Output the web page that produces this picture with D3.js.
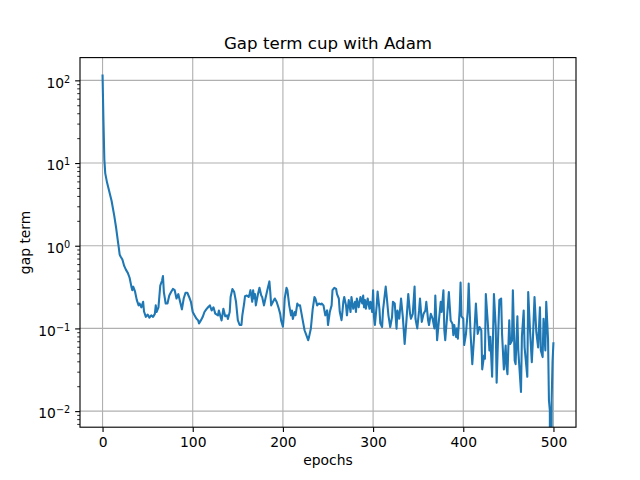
<!DOCTYPE html>
<html>
<head>
<meta charset="utf-8">
<script src="https://cdn.jsdelivr.net/npm/d3@7"></script>
<style>
  body { margin: 0; background: #fff; }
  svg { display: block; font-family: "DejaVu Sans", sans-serif; }
</style>
</head>
<body>
<svg id="chart" width="640" height="480"></svg>
<script>
const title = "Gap term cup with Adam";
const xLabel = "epochs";
const yLabel = "gap term";

const epochs = [
  0, 1, 2, 3, 5, 10, 13, 15, 17, 18,
  19, 20, 22, 24, 26, 28, 30, 32, 33, 34,
  36, 38, 40, 41, 43, 45, 46, 48, 50, 52,
  54, 56, 58, 59, 60, 62, 64, 66, 67, 68,
  70, 72, 74, 76, 78, 80, 82, 84, 86, 88,
  90, 92, 94, 96, 98, 100, 102, 104, 106, 107,
  109, 111, 113, 115, 117, 119, 121, 123, 125, 128,
  129, 131, 132, 134, 136, 138, 139, 141, 142, 144,
  146, 148, 150, 152, 154, 155, 157, 158, 160, 162,
  163, 164, 166, 167, 168, 169, 170, 172, 174, 176,
  177, 179, 181, 183, 185, 186, 187, 189, 191, 193,
  195, 197, 198, 200, 201, 202, 204, 205, 207, 209,
  210, 211, 213, 214, 216, 217, 219, 220, 222, 224,
  226, 228, 229, 231, 233, 235, 236, 238, 240, 242,
  243, 245, 247, 249, 250, 252, 254, 255, 257, 259,
  260, 262, 263, 265, 266, 267, 268, 270, 271, 273,
  275, 276, 278, 280, 281, 282, 284, 286, 288, 289,
  290, 291, 292, 294, 296, 297, 299, 300, 301, 302,
  304, 305, 307, 308, 310, 311, 314, 315, 317, 319,
  321, 322, 324, 326, 327, 329, 331, 333, 335, 337,
  339, 341, 342, 344, 346, 347, 349, 351, 352, 354,
  356, 358, 359, 361, 362, 364, 366, 368, 369, 371,
  373, 375, 376, 378, 379, 380, 382, 384, 386, 388,
  389, 390, 392, 393, 394, 396, 397, 398, 400, 401,
  403, 405, 406, 408, 410, 412, 414, 416, 418, 420,
  421, 423, 424, 425, 427, 429, 430, 432, 434, 436,
  437, 438, 440, 442, 443, 445, 447, 448, 449, 451,
  452, 454, 455, 457, 458, 460, 461, 464, 465, 467,
  468, 471, 472, 474, 476, 477, 479, 481, 483, 485,
  486, 488, 489, 491, 492, 494, 495, 496, 497, 498,
  499, 500
];

const gapTerm = [
  118, 33, 11, 7.5, 5.8, 3.5, 2.3, 1.66, 1.14, 0.95,
  0.78, 0.74, 0.68, 0.57, 0.51, 0.47, 0.41, 0.32, 0.29, 0.32,
  0.28, 0.22, 0.19, 0.20, 0.18, 0.21, 0.16, 0.138, 0.147, 0.135,
  0.144, 0.138, 0.15, 0.19, 0.158, 0.18, 0.33, 0.38, 0.43, 0.275,
  0.2, 0.2, 0.25, 0.275, 0.30, 0.29, 0.23, 0.26, 0.21, 0.17,
  0.23, 0.27, 0.27, 0.24, 0.21, 0.158, 0.144, 0.132, 0.125, 0.115,
  0.125, 0.137, 0.158, 0.17, 0.18, 0.19, 0.165, 0.18, 0.151, 0.144,
  0.165, 0.137, 0.125, 0.173, 0.14, 0.144, 0.13, 0.158, 0.24, 0.30,
  0.275, 0.21, 0.126, 0.11, 0.11, 0.144, 0.2, 0.245, 0.25, 0.24,
  0.26, 0.29, 0.21, 0.29, 0.23, 0.26, 0.19, 0.25, 0.31, 0.25,
  0.24, 0.19, 0.24, 0.30, 0.37, 0.275, 0.19, 0.21, 0.23, 0.21,
  0.18, 0.15, 0.125, 0.105, 0.144, 0.23, 0.31, 0.29, 0.19, 0.144,
  0.165, 0.13, 0.158, 0.144, 0.2, 0.19, 0.19, 0.165, 0.125, 0.095,
  0.083, 0.072, 0.079, 0.1, 0.17, 0.24, 0.23, 0.19, 0.2, 0.195,
  0.2, 0.19, 0.144, 0.165, 0.11, 0.158, 0.19, 0.29, 0.31, 0.30,
  0.26, 0.23, 0.16, 0.126, 0.158, 0.21, 0.24, 0.19, 0.144, 0.22,
  0.158, 0.24, 0.173, 0.21, 0.158, 0.23, 0.18, 0.24, 0.2, 0.25,
  0.18, 0.22, 0.173, 0.23, 0.173, 0.21, 0.158, 0.29, 0.137, 0.11,
  0.19, 0.28, 0.173, 0.115, 0.104, 0.165, 0.32, 0.25, 0.144, 0.104,
  0.137, 0.21, 0.2, 0.099, 0.165, 0.131, 0.23, 0.137, 0.065, 0.125,
  0.26, 0.15, 0.131, 0.15, 0.32, 0.131, 0.1, 0.165, 0.23, 0.12,
  0.15, 0.165, 0.21, 0.125, 0.11, 0.15, 0.131, 0.1, 0.25, 0.072,
  0.125, 0.21, 0.158, 0.29, 0.095, 0.072, 0.137, 0.275, 0.125, 0.114,
  0.083, 0.11, 0.079, 0.1, 0.075, 0.165, 0.36, 0.14, 0.131, 0.063,
  0.086, 0.165, 0.35, 0.09, 0.037, 0.079, 0.2, 0.086, 0.104, 0.095,
  0.032, 0.047, 0.043, 0.26, 0.125, 0.054, 0.079, 0.026, 0.26, 0.104,
  0.022, 0.049, 0.22, 0.23, 0.086, 0.032, 0.062, 0.034, 0.028, 0.125,
  0.065, 0.071, 0.29, 0.041, 0.037, 0.14, 0.054, 0.017, 0.079, 0.165,
  0.059, 0.026, 0.275, 0.095, 0.039, 0.065, 0.24, 0.09, 0.059, 0.18,
  0.054, 0.045, 0.131, 0.054, 0.21, 0.074, 0.0135, 0.0102, 0, 0.0135,
  0.04, 0.068
];

const xTicks = [0, 100, 200, 300, 400, 500];
const yTicks = [1e-2, 1e-1, 1e0, 1e1, 1e2];

const data = epochs.map((e, i) => ({ epoch: e, value: gapTerm[i] }));

const width = 640;
const height = 480;
const margin = { top: 57.6, right: 64, bottom: 52.8, left: 80 };
const w = width - margin.left - margin.right;
const h = height - margin.top - margin.bottom;

const pt = 100 / 72;
const fontSize = 10 * pt;

const svg = d3.select('#chart');

// matplotlib style autoscale, 5% margins (log space for y)
const xExt = d3.extent(epochs);
const xPad = (xExt[1] - xExt[0]) * 0.05;
const x = d3.scaleLinear()
    .domain([xExt[0] - xPad, xExt[1] + xPad])
    .range([0, w]);

const pos = gapTerm.filter(v => v > 0);
const lmin = Math.log10(d3.min(pos));
const lmax = Math.log10(d3.max(pos));
const lPad = (lmax - lmin) * 0.05;
const y = d3.scaleLog()
    .domain([Math.pow(10, lmin - lPad), Math.pow(10, lmax + lPad)])
    .range([h, 0]);

const g = svg.append('g')
    .attr('transform', `translate(${margin.left},${margin.top})`);

g.append('defs').append('clipPath')
    .attr('id', 'plot-clip')
  .append('rect')
    .attr('width', w)
    .attr('height', h);

// grid
g.append('g')
    .selectAll('line')
    .data(xTicks)
    .enter()
    .append('line')
    .attr('x1', d => x(d))
    .attr('x2', d => x(d))
    .attr('y1', 0)
    .attr('y2', h)
    .attr('stroke', '#b0b0b0')
    .attr('stroke-width', 0.8 * pt);

g.append('g')
    .selectAll('line')
    .data(yTicks)
    .enter()
    .append('line')
    .attr('x1', 0)
    .attr('x2', w)
    .attr('y1', d => y(d))
    .attr('y2', d => y(d))
    .attr('stroke', '#b0b0b0')
    .attr('stroke-width', 0.8 * pt);

// line
const line = d3.line()
    .x(d => x(d.epoch))
    .y(d => d.value > 0 ? y(d.value) : h + 1000);

g.append('path')
    .datum(data)
    .attr('clip-path', 'url(#plot-clip)')
    .attr('fill', 'none')
    .attr('stroke', '#1f77b4')
    .attr('stroke-width', 1.5 * pt)
    .attr('stroke-linejoin', 'round')
    .attr('d', line);

// axes
const xAxis = d3.axisBottom(x)
    .tickValues(xTicks)
    .tickSize(3.5 * pt)
    .tickPadding(3.5 * pt);

g.append('g')
    .attr('transform', `translate(0,${h})`)
    .call(xAxis)
    .call(s => s.select('.domain').remove())
    .call(s => s.selectAll('.tick line').attr('stroke', '#000').attr('stroke-width', 0.8 * pt))
    .call(s => s.selectAll('.tick text')
        .attr('fill', '#000')
        .attr('dy', '0.71em')
        .style('font-size', fontSize + 'px')
        .style('font-family', 'DejaVu Sans'));

const minorTicks = [];
d3.range(-3, 3).forEach(k => {
  for (let m = 2; m < 10; m++) {
    const v = m * Math.pow(10, k);
    if (v >= y.domain()[0] && v <= y.domain()[1]) minorTicks.push(v);
  }
});

g.append('g')
    .call(d3.axisLeft(y).tickValues(minorTicks).tickSize(2 * pt).tickFormat(() => ''))
    .call(s => s.select('.domain').remove())
    .call(s => s.selectAll('.tick line').attr('stroke', '#000').attr('stroke-width', 0.6 * pt));

const yAxis = d3.axisLeft(y)
    .tickValues(yTicks)
    .tickSize(3.5 * pt)
    .tickPadding(3.5 * pt)
    .tickFormat(() => '');

const yg = g.append('g')
    .call(yAxis)
    .call(s => s.select('.domain').remove())
    .call(s => s.selectAll('.tick line').attr('stroke', '#000').attr('stroke-width', 0.8 * pt));

yg.selectAll('.tick text')
    .attr('fill', '#000')
    .attr('dy', '0.48em')
    .style('font-size', fontSize + 'px')
    .style('font-family', 'DejaVu Sans')
    .each(function(d) {
      const t = d3.select(this);
      const e = Math.round(Math.log10(d));
      t.append('tspan').text('10');
      t.append('tspan')
          .attr('dy', -5)
          .style('font-size', (fontSize * 0.7) + 'px')
          .text(e < 0 ? '\u2212' + (-e) : String(e));
    });

// spines
g.append('rect')
    .attr('width', w)
    .attr('height', h)
    .attr('fill', 'none')
    .attr('stroke', '#000')
    .attr('stroke-width', 0.8 * pt);

// labels
svg.append('text')
    .attr('x', margin.left + w / 2)
    .attr('y', margin.top - 6 * pt - 0.5)
    .attr('text-anchor', 'middle')
    .style('font-size', (12 * pt) + 'px')
    .text(title);

svg.append('text')
    .attr('x', margin.left + w / 2)
    .attr('y', 465)
    .attr('text-anchor', 'middle')
    .style('font-size', fontSize + 'px')
    .text(xLabel);

svg.append('text')
    .attr('transform', `translate(29.5,${margin.top + h / 2}) rotate(-90)`)
    .attr('text-anchor', 'middle')
    .style('font-size', fontSize + 'px')
    .text(yLabel);
</script>
</body>
</html>
